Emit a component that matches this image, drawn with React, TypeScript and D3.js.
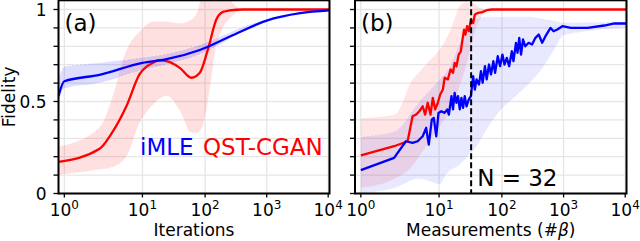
import React, { useEffect, useRef } from 'react';
import * as d3 from 'd3';

const WIDTH = 640;
const HEIGHT = 241;
const FONT = "'DejaVu Sans', sans-serif";
const RED = '#ff0000';
const BLUE = '#0000ff';

// x axis is a shifted log: position ~ log10(x - X_SHIFT)
const X_SHIFT = 0.49;
const X_LIM = [0.9, 10500];
const Y_LIM = [0, 1.05];

const xTicks = [1, 10, 100, 1000, 10000];
const xTickExp = ['0', '1', '2', '3', '4'];
const yTicks = [0, 0.1, 0.2, 0.3, 0.4, 0.5, 0.6, 0.7, 0.8, 0.9, 1.0];
const yTickLabels = ['0', '', '', '', '', '0.5', '', '', '', '', '1'];

// (a) iMLE
const aBlueX = [0.9, 1, 2.4, 10, 24, 82, 280, 1000, 3500, 10500];
const aBlueY = [0.53, 0.61, 0.645, 0.71, 0.73, 0.78, 0.86, 0.94, 0.98, 0.995];
const aBlueBandX = [0.9, 1, 2.4, 10, 24, 82, 200, 400, 1000, 10500];
const aBlueHi = [0.62, 0.69, 0.71, 0.74, 0.76, 0.81, 0.86, 0.905, 0.945, 0.997];
const aBlueLo = [0.49, 0.57, 0.6, 0.67, 0.7, 0.755, 0.82, 0.885, 0.935, 0.993];

// (a) QST-CGAN
const aRedX = [0.9, 2.4, 3.4, 5.7, 9, 14.4, 18.6, 24, 39, 60, 82, 111, 152, 195, 250, 414, 10500];
const aRedY = [0.172, 0.243, 0.32, 0.474, 0.647, 0.71, 0.723, 0.719, 0.683, 0.629, 0.656, 0.783, 0.946, 0.987, 0.995, 1.0, 1.0];
const aRedBandX = [0.9, 2.4, 3.4, 5.7, 9, 14.4, 24, 39, 60, 75, 90, 111, 152, 195, 250, 414, 10500];
const aRedHi = [0.255, 0.36, 0.5, 0.78, 0.88, 0.935, 0.935, 0.925, 0.945, 0.99, 1.1, 1.15, 1.15, 1.12, 1.06, 1.0, 1.0];
const aRedLo = [0.1, 0.13, 0.14, 0.2, 0.38, 0.48, 0.53, 0.45, 0.33, 0.33, 0.36, 0.5, 0.8, 0.9, 0.95, 0.995, 1.0];

// (b) iMLE
const bBlueX = [1, 2.26, 3.24, 4.02, 4.76, 5.64, 6.35, 6.96, 7.73, 8.29, 9.04, 9.8, 10.8, 12.2, 13.4, 14.2, 15.6, 16.5, 17.5, 18.7,
  19.8, 21.1, 22.4, 23.8, 25.3, 27, 29.4, 31.7, 34.5, 36.7, 39.1, 42.7, 46, 48.9, 53.3, 56.9, 62, 66.7, 72.8, 77.6,
  85.8, 93.6, 102, 110, 120, 131, 145, 154, 169, 179, 191, 204, 220, 239, 271, 308, 349, 395, 449, 508,
  614, 687, 791, 955, 1306, 2449, 4581, 6683, 10400];
const bBlueY = [0.127, 0.194, 0.284, 0.275, 0.284, 0.311, 0.357, 0.266, 0.402, 0.411, 0.311, 0.438, 0.447, 0.438, 0.457, 0.429, 0.529, 0.457, 0.547, 0.493,
  0.529, 0.457, 0.52, 0.466, 0.529, 0.474, 0.511, 0.529, 0.638, 0.565, 0.62, 0.592, 0.665, 0.602, 0.692, 0.62, 0.701, 0.647, 0.719, 0.656,
  0.746, 0.692, 0.755, 0.701, 0.737, 0.692, 0.773, 0.719, 0.819, 0.765, 0.846, 0.755, 0.837, 0.8, 0.819, 0.81, 0.846, 0.864, 0.819, 0.855,
  0.9, 0.882, 0.891, 0.909, 0.9, 0.9, 0.913, 0.924, 0.924];
const bBlueBandX = [1, 2.3, 5, 8, 10, 14, 20, 28, 38, 60, 100, 170, 280, 450, 700, 1000, 10400];
const bBlueHi = [0.31, 0.34, 0.5, 0.58, 0.62, 0.68, 0.8, 0.9, 0.95, 0.96, 0.96, 0.96, 0.96, 0.95, 0.94, 0.93, 0.935];
const bBlueLo = [0.0, 0.03, 0.08, 0.06, 0.05, 0.12, 0.15, 0.2, 0.25, 0.36, 0.46, 0.53, 0.6, 0.68, 0.78, 0.86, 0.9];

// (b) QST-CGAN
const bRedX = [1, 2.26, 3.42, 4.02, 4.51, 5.04, 5.64, 6.14, 6.71, 7.38, 8.01, 8.71, 9.57, 10.4, 11.45, 12.2, 13.7, 15.1, 16.5, 17.5,
  18.7, 20.3, 21.9, 23.3, 24.7, 26, 27.6, 29.4, 31.7, 34.5, 36.7, 41.5, 48.2, 56.9, 68.6, 10500];
const bRedY = [0.207, 0.257, 0.284, 0.42, 0.429, 0.447, 0.474, 0.429, 0.493, 0.429, 0.52, 0.457, 0.493, 0.538, 0.565, 0.629, 0.62, 0.674, 0.656, 0.71,
  0.692, 0.755, 0.773, 0.837, 0.891, 0.864, 0.909, 0.882, 0.946, 0.927, 0.973, 0.982, 0.986, 0.996, 1.0, 1.0];
const bRedBandX = [1, 2.3, 4, 5, 7, 10, 13.7, 17.5, 21, 27, 32, 37, 45, 70, 10500];
const bRedHi = [0.41, 0.43, 0.62, 0.66, 0.72, 0.78, 0.86, 0.95, 1.02, 1.04, 1.04, 1.03, 1.01, 1.0, 1.0];
const bRedLo = [0.03, 0.08, 0.15, 0.2, 0.28, 0.36, 0.43, 0.5, 0.58, 0.7, 0.8, 0.88, 0.95, 1.0, 1.0];

const N_MARK = 32;

const TOP = 0.3;
const BOTTOM = 193.5;

function zipLine(xs, ys) {
  return xs.map((x, i) => ({ x, y: ys[i] }));
}
function zipBand(xs, lo, hi) {
  return xs.map((x, i) => ({ x, lo: lo[i], hi: hi[i] }));
}

function drawPanel(svg, p) {
  const lin = d3.scaleLinear()
    .domain([Math.log10(X_LIM[0] - X_SHIFT), Math.log10(X_LIM[1] - X_SHIFT)])
    .range([p.left, p.right]);
  const x = (v) => lin(Math.log10(v - X_SHIFT));
  const y = d3.scaleLinear().domain(Y_LIM).range([BOTTOM, TOP]);

  const g = svg.append('g');
  const clipId = `clip-${p.id}`;
  g.append('clipPath').attr('id', clipId)
    .append('rect')
    .attr('x', p.left).attr('y', TOP)
    .attr('width', p.right - p.left).attr('height', BOTTOM - TOP);

  // grid
  g.selectAll('line.hgrid').data(yTicks).enter().append('line')
    .attr('x1', p.left).attr('x2', p.right)
    .attr('y1', (d) => y(d)).attr('y2', (d) => y(d))
    .attr('stroke', '#e6e6e6').attr('stroke-width', 1.3);
  g.selectAll('line.vgrid').data(xTicks).enter().append('line')
    .attr('x1', (d) => x(d)).attr('x2', (d) => x(d))
    .attr('y1', TOP).attr('y2', BOTTOM)
    .attr('stroke', '#e6e6e6').attr('stroke-width', 1.3);

  const plot = g.append('g').attr('clip-path', `url(#${clipId})`);
  const curve = p.smooth ? d3.curveMonotoneX : d3.curveLinear;

  const area = d3.area()
    .x((d) => x(d.x)).y0((d) => y(d.lo)).y1((d) => y(d.hi))
    .curve(d3.curveMonotoneX);
  const edgeHi = d3.line().x((d) => x(d.x)).y((d) => y(d.hi)).curve(d3.curveMonotoneX);
  const edgeLo = d3.line().x((d) => x(d.x)).y((d) => y(d.lo)).curve(d3.curveMonotoneX);

  p.bands.forEach((b) => {
    plot.append('path').datum(b.data)
      .attr('d', area)
      .attr('fill', b.color).attr('fill-opacity', b.opacity);
    [edgeHi, edgeLo].forEach((fn) => {
      plot.append('path').datum(b.data)
        .attr('d', fn)
        .attr('fill', 'none').attr('stroke', '#fff')
        .attr('stroke-width', 0.8).attr('stroke-dasharray', '2,2')
        .attr('stroke-opacity', 0.8);
    });
  });

  const line = d3.line().x((d) => x(d.x)).y((d) => y(d.y)).curve(curve);
  p.lines.forEach((l) => {
    plot.append('path').datum(l.data)
      .attr('d', line)
      .attr('fill', 'none').attr('stroke', l.color)
      .attr('stroke-width', 2.3).attr('stroke-linejoin', 'round');
  });

  if (p.marker) {
    g.append('line')
      .attr('x1', x(p.marker)).attr('x2', x(p.marker))
      .attr('y1', TOP).attr('y2', BOTTOM)
      .attr('stroke', '#000').attr('stroke-width', 2)
      .attr('stroke-dasharray', '6,3');
  }

  // spines
  g.append('rect')
    .attr('x', p.left).attr('y', TOP)
    .attr('width', p.right - p.left).attr('height', BOTTOM - TOP)
    .attr('fill', 'none').attr('stroke', '#000').attr('stroke-width', 2);

  // y ticks
  g.selectAll('line.ytick').data(yTicks).enter().append('line')
    .attr('x1', p.left - 5).attr('x2', p.left)
    .attr('y1', (d) => y(d)).attr('y2', (d) => y(d))
    .attr('stroke', '#000').attr('stroke-width', 1.3);
  if (p.yLabels) {
    g.selectAll('text.ylab').data(yTicks).enter().append('text')
      .attr('x', p.left - 12).attr('y', (d) => y(d))
      .attr('text-anchor', 'end').attr('dominant-baseline', 'central')
      .attr('font-family', FONT).attr('font-size', 17)
      .text((d, i) => yTickLabels[i]);
    g.append('text')
      .attr('transform', `translate(15,${(TOP + BOTTOM) / 2}) rotate(-90)`)
      .attr('text-anchor', 'middle')
      .attr('font-family', FONT).attr('font-size', 17)
      .text('Fidelity');
  }

  // x ticks
  g.selectAll('line.xtick').data(xTicks).enter().append('line')
    .attr('x1', (d) => x(d)).attr('x2', (d) => x(d))
    .attr('y1', BOTTOM).attr('y2', BOTTOM + 4)
    .attr('stroke', '#000').attr('stroke-width', 1.3);
  const xl = g.selectAll('text.xlab').data(xTicks).enter().append('text')
    .attr('x', (d) => x(d)).attr('y', 216)
    .attr('text-anchor', 'middle')
    .attr('font-family', FONT).attr('font-size', 17);
  xl.append('tspan').text('10');
  xl.append('tspan').attr('dy', -7).attr('font-size', 12)
    .text((d, i) => xTickExp[i]);

  const xt = g.append('text')
    .attr('x', (p.left + p.right) / 2).attr('y', 236)
    .attr('text-anchor', 'middle')
    .attr('font-family', FONT).attr('font-size', 17);
  xt.append('tspan').text(p.xTitle);
  if (p.xTitleMath) {
    xt.append('tspan').attr('font-style', 'italic').text(p.xTitleMath);
    xt.append('tspan').text(')');
  }

  g.append('text')
    .attr('x', p.left + 6).attr('y', 31)
    .attr('font-family', FONT).attr('font-size', 23)
    .text(p.tag);

  return { x, y, g };
}

function App() {
  const ref = useRef(null);

  useEffect(() => {
    if (!ref.current) return;
    d3.select(ref.current).selectAll('*').remove();
    const svg = d3.select(ref.current);

    svg.append('rect').attr('width', WIDTH).attr('height', HEIGHT).attr('fill', '#fff');

    const a = drawPanel(svg, {
      id: 'a', left: 58.5, right: 329.5, smooth: true, yLabels: true,
      tag: '(a)', xTitle: 'Iterations',
      bands: [
        { data: zipBand(aRedBandX, aRedLo, aRedHi), color: RED, opacity: 0.12 },
        { data: zipBand(aBlueBandX, aBlueLo, aBlueHi), color: BLUE, opacity: 0.13 },
      ],
      lines: [
        { data: zipLine(aRedX, aRedY), color: RED },
        { data: zipLine(aBlueX, aBlueY), color: BLUE },
      ],
    });
    a.g.append('text').attr('x', 140).attr('y', 155)
      .attr('font-family', FONT).attr('font-size', 23).attr('fill', BLUE)
      .text('iMLE');
    a.g.append('text').attr('x', 203).attr('y', 155)
      .attr('font-family', FONT).attr('font-size', 23).attr('fill', RED)
      .text('QST-CGAN');

    const b = drawPanel(svg, {
      id: 'b', left: 355, right: 626.5, smooth: false, yLabels: false,
      tag: '(b)', xTitle: 'Measurements (#', xTitleMath: 'β',
      marker: N_MARK,
      bands: [
        { data: zipBand(bRedBandX, bRedLo, bRedHi), color: RED, opacity: 0.1 },
        { data: zipBand(bBlueBandX, bBlueLo, bBlueHi), color: BLUE, opacity: 0.09 },
      ],
      lines: [
        { data: zipLine(bRedX, bRedY), color: RED },
        { data: zipLine(bBlueX, bBlueY), color: BLUE },
      ],
    });
    b.g.append('text').attr('x', b.x(N_MARK) + 6).attr('y', 186)
      .attr('font-family', FONT).attr('font-size', 23)
      .text('N = 32');
  }, []);

  return (
    <svg ref={ref} width={WIDTH} height={HEIGHT}
      style={{ position: 'absolute', left: 0, top: 0, display: 'block' }} />
  );
}

export default App;
